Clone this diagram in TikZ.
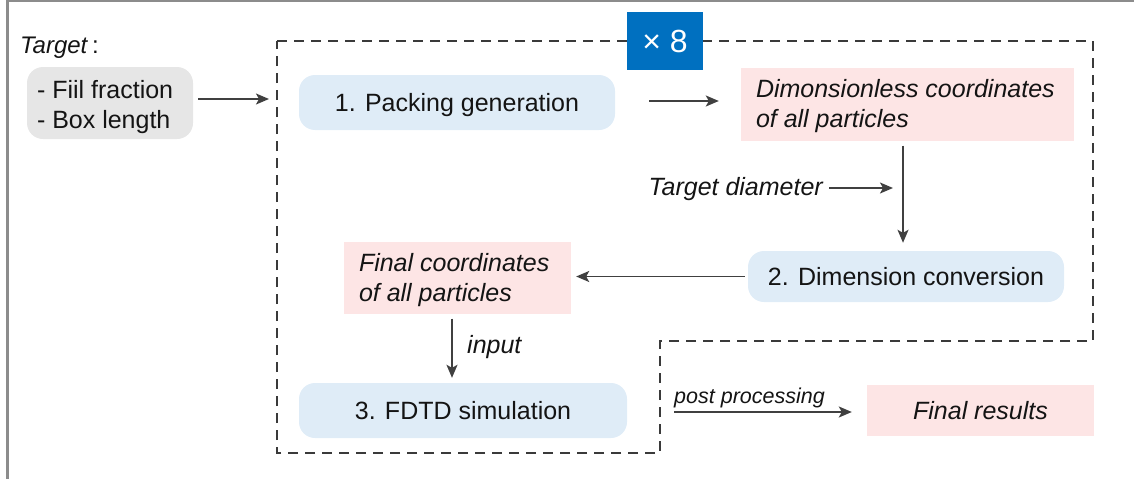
\documentclass[tikz,border=0pt]{standalone}
\usepackage{fontspec}
\setmainfont{Liberation Sans}
\usetikzlibrary{arrows.meta}
\definecolor{framegray}{HTML}{8C8C8C}
\definecolor{dashgray}{HTML}{3A3A3A}
\definecolor{arrgray}{HTML}{404040}
\definecolor{boxgray}{HTML}{E6E6E6}
\definecolor{boxblue}{HTML}{DFECF7}
\definecolor{boxpink}{HTML}{FDE5E5}
\definecolor{repblue}{HTML}{0070C0}
\definecolor{txt}{HTML}{141414}
\begin{document}
\begin{tikzpicture}[x=1pt,y=-1pt,
  font=\fontsize{25}{30}\selectfont, text=txt,
  stepbox/.style={fill=boxblue, rounded corners=16pt, inner sep=0pt, text height=18pt, text depth=0pt},
  pinkbox/.style={fill=boxpink, inner sep=0pt},
  itfont/.style={font=\fontsize{25}{30}\selectfont\itshape},
  lbl/.style={itfont, inner sep=0pt},
  arr/.style={draw=arrgray, line width=1.6pt, -{Stealth[length=13pt,width=11pt,inset=3pt]}},
  frameline/.style={draw=dashgray, line width=1.8pt, dash pattern=on 10pt off 7pt},
]
\useasboundingbox (0,0) rectangle (1134,479);
% outer frame
\draw[framegray, line width=2.5pt] (7.5,0) -- (7.5,479);
\draw[framegray, line width=2pt] (7.5,1) -- (1134,1);
% dashed repetition frame
\draw[frameline] (277,41) -- (1093,41) -- (1093,341) -- (660,341) -- (660,453) -- (277,453) -- cycle;
\coordinate (fl) at (277,99);
\coordinate (vx) at (903,188);
\coordinate (vx2) at (452,350);

\node[anchor=base west, inner sep=0pt, font=\fontsize{24}{28}\selectfont] (tgt) at (20,53) {\textit{Target}\,:};
\node[fill=boxgray, rounded corners=16pt, minimum width=166pt, minimum height=72pt,
      inner xsep=10pt, inner ysep=0pt, text height=50pt, text depth=0pt] (inbox) at (110,103)
      {\parbox[b]{146pt}{- Fiil fraction\\- Box length}};
\node[fill=repblue, minimum width=76pt, minimum height=58pt, inner sep=0pt, text=white,
      font=\fontsize{32}{36}\selectfont] (rep) at (665,41) {× 8};
\node[stepbox, minimum width=316pt, minimum height=55pt] (s1) at (457,102.5) {1. Packing generation};
\node[pinkbox, itfont, minimum height=73pt, inner xsep=15pt, text height=46pt, text depth=0pt] (d1)
      at (907.5,104) {\parbox[b]{303pt}{Dimonsionless coordinates\\of all particles}};
\node[lbl, anchor=base east] (td) at (823,195) {Target diameter};
\node[stepbox, minimum width=316pt, minimum height=51pt] (s2) at (906,276.5) {2. Dimension conversion};
\node[pinkbox, itfont, minimum height=72pt, inner xsep=15pt, text height=48pt, text depth=0pt] (fc)
      at (457.5,277.5) {\parbox[b]{197pt}{Final coordinates\\of all particles}};
\node[lbl, anchor=base west] (inp) at (467,353) {input};
\node[stepbox, minimum width=328pt, minimum height=55pt] (s3) at (463,410.5) {3. FDTD simulation};
\node[lbl, anchor=base west, font=\fontsize{21.5}{26}\selectfont\itshape] (pp) at (674,403) {post processing};
\node[pinkbox, itfont, minimum width=227pt, minimum height=51pt, text height=18pt, text depth=0pt] (fr)
      at (980.5,410.5) {Final results};

% connectors
\draw[arr, shorten <=5pt, shorten >=8pt] (inbox.east |- fl) -- (fl);
\draw[arr, shorten <=34pt, shorten >=22pt] ([yshift=1.5pt]s1.east) -- ([yshift=1.5pt]s1.east -| d1.west);
\draw[arr, shorten <=5pt, shorten >=8pt] (d1.south -| vx) -- (s2.north -| vx);
\draw[arr, shorten <=6pt, shorten >=10pt] (td.east |- vx) -- (vx);
\draw[arr, shorten <=3pt, shorten >=5pt] (s2.west) -- (s2.west -| fc.east);
\draw[arr, shorten <=5pt, shorten >=5pt] (fc.south -| vx2) -- (s3.north -| vx2);
\draw[arr, shorten <=47pt, shorten >=15pt] ([yshift=-1.5pt]s3.east) -- ([yshift=-1.5pt]s3.east -| fr.west);
\end{tikzpicture}
\end{document}
